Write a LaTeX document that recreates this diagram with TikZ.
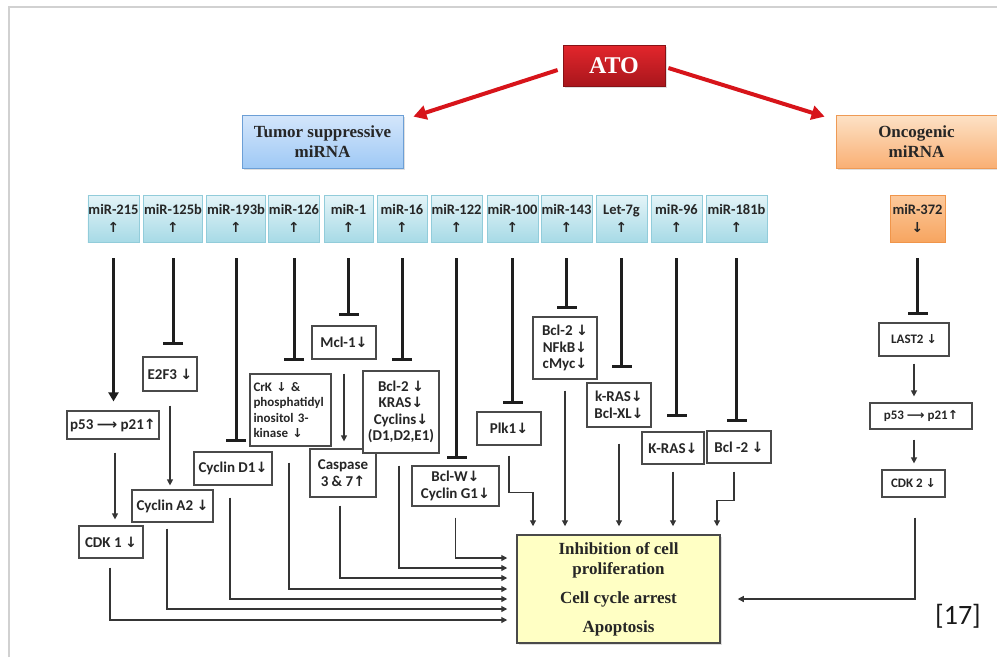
\documentclass[tikz,border=0pt]{standalone}
\usepackage{fontspec}
\setmainfont{Liberation Serif}
\newfontfamily\calfont{Carlito}
\newfontfamily\arwfont[Scale=0.95]{DejaVu Sans}
\usetikzlibrary{arrows.meta,shadows}
\newcommand\mydn{{\arwfont ↓}}
\newcommand\myup{{\arwfont ↑}}
\newcommand\myra{{\arwfont ⟶}}
\definecolor{atoT}{HTML}{E2262C}
\definecolor{atoB}{HTML}{A8161C}
\definecolor{tsT}{HTML}{D4E6FB}
\definecolor{tsB}{HTML}{9FC9F5}
\definecolor{tsD}{HTML}{6C9FD6}
\definecolor{onT}{HTML}{FDE2C6}
\definecolor{onB}{HTML}{F9AF74}
\definecolor{onD}{HTML}{EE9A55}
\definecolor{mT}{HTML}{E4F4F8}
\definecolor{mB}{HTML}{A7DAE6}
\definecolor{mD}{HTML}{92CCDA}
\definecolor{oT}{HTML}{FCC99C}
\definecolor{oB}{HTML}{F7A560}
\definecolor{oD}{HTML}{F0954A}
\definecolor{fin}{HTML}{FFFFC4}
\definecolor{redarr}{HTML}{D7141A}
\definecolor{bxc}{HTML}{4A4A4A}
\definecolor{lnc}{HTML}{1E1E1E}
\begin{document}
\begin{tikzpicture}[x=1pt,y=-1pt,
  shad/.style={drop shadow={shadow xshift=1.5pt,shadow yshift=-1.5pt,opacity=0.25}},
  topbox/.style={shad,line width=0.8pt,align=center,inner sep=1pt,
    font=\bfseries\fontsize{17}{20}\selectfont,text=black!85},
  mir/.style={line width=0.8pt,draw=mD,top color=mT,bottom color=mB,minimum height=47pt,
    inner sep=0.5pt,align=center,text=black!85,
    font=\calfont\bfseries\fontsize{14.5}{18}\selectfont},
  omir/.style={mir,draw=oD,top color=oT,bottom color=oB},
  bx/.style={draw=bxc,line width=1.2pt,fill=white,align=center,inner sep=1pt,text=black!85,
    font=\calfont\bfseries\fontsize{15}{16.5}\selectfont},
  inh/.style={line width=3pt,draw=lnc,-{Bar[width=20pt]}},
  actk/.style={line width=2.8pt,draw=lnc,-{Triangle[length=9pt,width=10pt]}},
  act/.style={line width=1.2pt,draw=lnc!90,-{Triangle[length=6pt,width=6pt]}},
  redar/.style={line width=4pt,draw=redarr,-{Triangle[length=13pt,width=14pt]}}
]
\useasboundingbox (0,0) rectangle (997,657);
\fill[white] (0,0) rectangle (997,657);
\draw[black!18,line width=1.2pt] (9,657) -- (9,7) -- (997,7);

% top boxes
\node[topbox,draw=atoB!80!black,top color=atoT,bottom color=atoB,minimum width=102pt,minimum height=41pt,
  text=white,font=\bfseries\fontsize{24}{26}\selectfont] (ato) at (614,66) {ATO};
\node[topbox,draw=tsD,top color=tsT,bottom color=tsB,minimum width=161pt,minimum height=53pt] (ts) at (322.5,141.5) {Tumor suppressive\\miRNA};
\node[topbox,draw=onD,top color=onT,bottom color=onB,minimum width=161pt,minimum height=53pt] (onc) at (916.5,141.5) {Oncogenic\\miRNA};
\draw[redar] ([xshift=-5pt,yshift=-4pt]ato.west) -- ([xshift=10pt,yshift=-2pt]ts.north east);
\draw[redar] ([xshift=3pt,yshift=-2pt]ato.east) -- ([xshift=-11pt,yshift=-2pt]onc.north west);

% miRNA row
\node[mir,minimum width=51pt] (m215) at (113.5,218.5) {miR-215\\\myup};
\node[mir,minimum width=58pt] (m125) at (173,218.5) {miR-125b\\\myup};
\node[mir,minimum width=58pt] (m193) at (236,218.5) {miR-193b\\\myup};
\node[mir,minimum width=50pt] (m126) at (294,218.5) {miR-126\\\myup};
\node[mir,minimum width=49pt] (m1) at (348.5,218.5) {miR-1\\\myup};
\node[mir,minimum width=50pt] (m16) at (402,218.5) {miR-16\\\myup};
\node[mir,minimum width=51pt] (m122) at (456.5,218.5) {miR-122\\\myup};
\node[mir,minimum width=51pt] (m100) at (512.5,218.5) {miR-100\\\myup};
\node[mir,minimum width=51pt] (m143) at (566.5,218.5) {miR-143\\\myup};
\node[mir,minimum width=51pt] (let7) at (621.5,218.5) {Let-7g\\\myup};
\node[mir,minimum width=51pt] (m96) at (676.5,218.5) {miR-96\\\myup};
\node[mir,minimum width=61pt] (m181) at (736.5,218.5) {miR-181b\\\myup};
\node[omir,minimum width=55pt] (m372) at (917.5,218.5) {miR-372\\\mydn};

% target boxes
\node[bx,minimum width=92pt,minimum height=28pt] (p53l) at (113,425) {p53 \myra\ p21\myup};
\node[bx,minimum width=54pt,minimum height=34pt] (e2f3) at (170,374) {E2F3 \mydn};
\node[bx,minimum width=78pt,minimum height=33pt] (cycd1) at (233,468.5) {Cyclin D1\mydn};
\node[bx,minimum width=81pt,minimum height=72pt,align=left,text width=74pt,
  font=\calfont\bfseries\fontsize{13}{15.5}\selectfont] (crk) at (290.5,410) {CrK \mydn\ \&\\phosphatidyl\\inositol 3-\\kinase \mydn};
\node[bx,minimum width=64pt,minimum height=33pt] (mcl1) at (344,342.5) {Mcl-1\mydn};
\node[bx,minimum width=66pt,minimum height=48pt] (casp) at (343,473) {Caspase\\3 \& 7\myup};
\node[bx,minimum width=76pt,minimum height=82pt] (bcl2a) at (401,412) {Bcl-2 \mydn\\KRAS\mydn\\Cyclins\mydn\\(D1,D2,E1)};
\node[bx,minimum width=87pt,minimum height=40pt] (bclw) at (455.5,486) {Bcl-W\mydn\\Cyclin G1\mydn};
\node[bx,minimum width=64pt,minimum height=33pt] (plk1) at (509,428.5) {Plk1\mydn};
\node[bx,minimum width=64pt,minimum height=62pt] (bcl2b) at (565,348) {Bcl-2 \mydn\\NFkB\mydn\\cMyc\mydn};
\node[bx,minimum width=64pt,minimum height=44pt] (kras) at (619,405) {k-RAS\mydn\\Bcl-XL\mydn};
\node[bx,minimum width=62pt,minimum height=32pt] (kras2) at (673,448) {K-RAS\mydn};
\node[bx,minimum width=64pt,minimum height=32pt] (bcl2c) at (739,447) {Bcl -2 \mydn};
\node[bx,minimum width=81pt,minimum height=32pt] (cyca2) at (172.5,506) {Cyclin A2 \mydn};
\node[bx,minimum width=64pt,minimum height=32pt] (cdk1) at (111,542) {CDK 1 \mydn};
\node[bx,minimum width=70pt,minimum height=33pt,font=\calfont\bfseries\fontsize{13}{15}\selectfont] (last2) at (914,339.5) {LAST2 \mydn};
\node[bx,minimum width=102pt,minimum height=26pt,font=\calfont\bfseries\fontsize{13}{15}\selectfont] (p53r) at (921,416) {p53 \myra\ p21\myup};
\node[bx,minimum width=63pt,minimum height=27pt,font=\calfont\bfseries\fontsize{13}{15}\selectfont] (cdk2) at (913.5,483.5) {CDK 2 \mydn};

% final box
\node[shad,draw=bxc,line width=1.5pt,fill=fin,minimum width=203pt,minimum height=108pt,align=center,
  text=black!85,font=\bfseries\fontsize{17}{20}\selectfont] (fin) at (618.5,589)
  {Inhibition of cell\\proliferation\\[9pt]Cell cycle arrest\\[9pt]Apoptosis};

\node[font=\calfont\fontsize{28}{30}\selectfont,text=black!90] (ref) at (958,616) {[17]};

% miRNA -> targets
\draw[actk,shorten <=16pt,shorten >=9pt] (m215.south) -- (p53l.north -| m215.south);
\draw[inh,shorten <=16pt,shorten >=11pt] (m125.south) -- (e2f3.north -| m125.south);
\draw[inh,shorten <=16pt,shorten >=9pt] (m193.south) -- (cycd1.north -| m193.south);
\draw[inh,shorten <=16pt,shorten >=12pt] (m126.south) -- (crk.north -| m126.south);
\draw[inh,shorten <=16pt,shorten >=9pt] (m1.south) -- (mcl1.north -| m1.south);
\draw[inh,shorten <=16pt,shorten >=9pt] (m16.south) -- (bcl2a.north -| m16.south);
\draw[inh,shorten <=16pt,shorten >=6pt] (m122.south) -- (bclw.north -| m122.south);
\draw[inh,shorten <=16pt,shorten >=7pt] (m100.south) -- (plk1.north -| m100.south);
\draw[inh,shorten <=16pt,shorten >=7pt] (m143.south) -- (bcl2b.north -| m143.south);
\draw[inh,shorten <=16pt,shorten >=14pt] (let7.south) -- (kras.north -| let7.south);
\draw[inh,shorten <=16pt,shorten >=14pt] (m96.south) -- (kras2.north -| m96.south);
\draw[inh,shorten <=16pt,shorten >=8pt] (m181.south) -- (bcl2c.north -| m181.south);
\draw[inh,shorten <=16pt,shorten >=7pt] (m372.south) -- (last2.north -| m372.south);

% chains
\draw[act,shorten <=14pt,shorten >=7pt] (mcl1.south) -- (casp.north -| mcl1.south);
\draw[act,shorten <=13pt,shorten >=6pt] ([xshift=2pt]p53l.south) -- ([xshift=2pt]p53l.south |- cdk1.north);
\draw[act,shorten <=14pt,shorten >=4pt] (e2f3.south) -- (cyca2.north -| e2f3.south);
\draw[act,shorten <=7pt,shorten >=6pt] (last2.south) -- (p53r.north -| last2.south);
\draw[act,shorten <=10pt,shorten >=6pt] (p53r.south -| last2.south) -- (cdk2.north -| last2.south);

% into final box, left side
\draw[act,shorten >=9pt] ([yshift=-11pt]bclw.south) |- (fin.west |- 0,558);
\draw[act,shorten >=9pt] ([xshift=-2pt,yshift=-12pt]bcl2a.south) |- (fin.west |- 0,568);
\draw[act,shorten >=9pt] ([xshift=-3pt,yshift=-8pt]casp.south) |- (fin.west |- 0,578);
\draw[act,shorten >=9pt] ([xshift=-1.5pt,yshift=-16pt]crk.south) |- (fin.west |- 0,589);
\draw[act,shorten >=9pt] ([xshift=-3pt,yshift=-12pt]cycd1.south) |- (fin.west |- 0,599);
\draw[act,shorten >=9pt] ([xshift=-5.5pt,yshift=-6pt]cyca2.south) |- (fin.west |- 0,609);
\draw[act,shorten >=9pt] ([xshift=-1pt,yshift=-9pt]cdk1.south) |- (fin.west |- 0,620);

% into final box, top
\draw[act,shorten >=8pt] ([yshift=-10pt]plk1.south) -- ++(0,37) -| ([xshift=-85.5pt]fin.north);
\draw[act,shorten <=11pt,shorten >=8pt] (bcl2b.south) -- (bcl2b.south |- fin.north);
\draw[act,shorten <=16pt,shorten >=8pt] (kras.south) -- (kras.south |- fin.north);
\draw[act,shorten <=7pt,shorten >=8pt] (kras2.south) -- (kras2.south |- fin.north);
\draw[act,shorten >=8pt] ([xshift=-5pt,yshift=-8pt]bcl2c.south) -- ++(0,29) -| ([xshift=98.5pt]fin.north);

% oncogenic path to final box
\draw[act,shorten >=17pt] ([xshift=1.5pt,yshift=-20pt]cdk2.south) |- (fin.east |- 0,599);
\end{tikzpicture}
\end{document}
